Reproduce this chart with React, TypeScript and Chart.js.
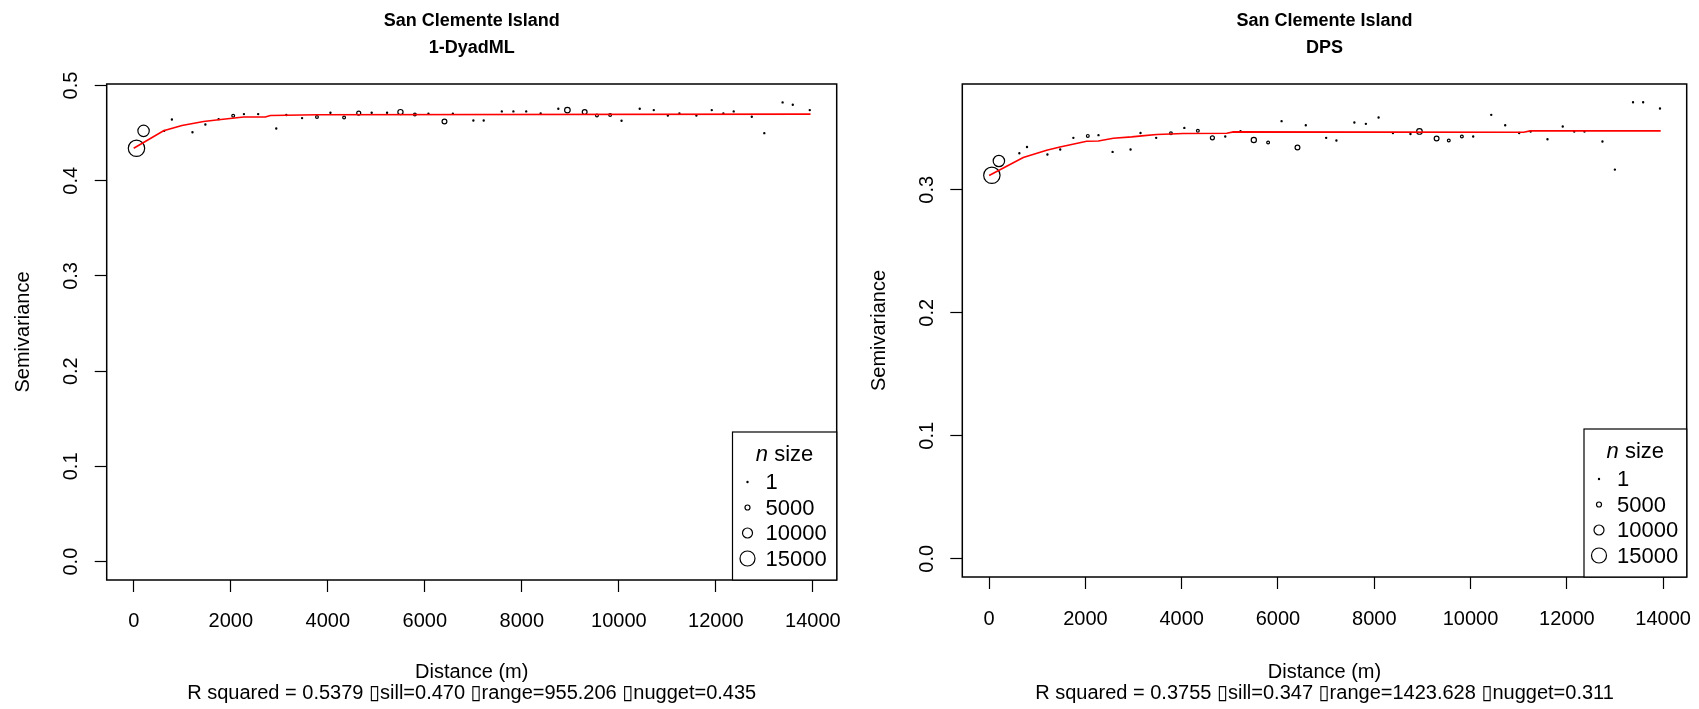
import React, { useEffect, useRef } from "react";
import { Chart, registerables } from "chart.js";

Chart.register(...registerables);

// ---------------- data ----------------
const DIST = [
  57, 203, 628, 787, 1211, 1477, 1750, 2050, 2272, 2565, 2938, 3145, 3470, 3777,
  4055, 4336, 4638, 4905, 5222, 5498, 5795, 6075, 6405, 6578, 7001, 7214, 7587,
  7826, 8090, 8388, 8752, 8939, 9295, 9548, 9820, 10055, 10430, 10720, 11010,
  11248, 11598, 11915, 12154, 12367, 12740, 12998, 13375, 13585, 13935,
];

const N_PAIRS = [
  16400, 11400, 1000, 1000, 1000, 1000, 1000, 2800, 1000, 1000, 1000, 1000, 1000,
  2800, 1000, 2800, 4000, 1000, 1000, 5200, 2800, 1000, 4800, 1000, 1000, 1000,
  1000, 1000, 1000, 1000, 1000, 5600, 4800, 2800, 2800, 1000, 1000, 1000, 1000,
  1000, 1000, 1000, 1000, 1000, 1000, 1000, 1000, 1000, 1000,
];

const SEMIVAR_DYAD = [
  0.4341, 0.4524, 0.4524, 0.4643, 0.451, 0.459, 0.4647, 0.4682, 0.47, 0.47,
  0.4548, 0.469, 0.4658, 0.4669, 0.4714, 0.4664, 0.4711, 0.4714, 0.4714, 0.4721,
  0.4696, 0.4703, 0.4622, 0.4703, 0.4633, 0.4633, 0.4728, 0.4728, 0.4728, 0.4707,
  0.4756, 0.4742, 0.4721, 0.4685, 0.469, 0.463, 0.4756, 0.4742, 0.4685, 0.4707,
  0.4685, 0.4742, 0.4707, 0.4728, 0.4672, 0.45, 0.4823, 0.4798, 0.4742,
];

const SEMIVAR_DPS = [
  0.3118, 0.3234, 0.3297, 0.3348, 0.3287, 0.3327, 0.3422, 0.3438, 0.3444, 0.3308,
  0.3327, 0.3462, 0.3422, 0.346, 0.3503, 0.3479, 0.3422, 0.3433, 0.3476, 0.3405,
  0.3384, 0.3558, 0.3344, 0.3525, 0.3422, 0.3401, 0.3547, 0.3536, 0.3588, 0.3462,
  0.3454, 0.3474, 0.3417, 0.3401, 0.3433, 0.3433, 0.3609, 0.3525, 0.3462, 0.3474,
  0.3411, 0.3515, 0.3474, 0.3474, 0.3392, 0.3164, 0.3712, 0.3712, 0.3661,
];

const FIT_DYAD_X = [0, 615, 994, 1440, 1750, 2266, 2713, 2817, 3780, 13950];
const FIT_DYAD_Y = [0.4341, 0.4524, 0.458, 0.4622, 0.464, 0.4669, 0.4669, 0.4685, 0.4693, 0.470];

const FIT_DPS_X = [0, 709, 1195, 1472, 2026, 2269, 2580, 2962, 3170, 3482, 4034, 4937, 5075, 11101, 11241, 13950];
const FIT_DPS_Y = [0.3116, 0.3262, 0.3322, 0.3348, 0.3395, 0.3397, 0.3419, 0.343, 0.3438, 0.3449, 0.3458, 0.346, 0.3471, 0.3468, 0.3479, 0.3479];

const X_TICKS = [0, 2000, 4000, 6000, 8000, 10000, 12000, 14000];
const Y_TICKS_DYAD = [0, 0.1, 0.2, 0.3, 0.4, 0.5];
const Y_TICKS_DPS = [0, 0.1, 0.2, 0.3];
const LEGEND_N = [1, 5000, 10000, 15000];

const CAPTION_DYAD = "R squared = 0.5379 \u25AFsill=0.470 \u25AFrange=955.206 \u25AFnugget=0.435";
const CAPTION_DPS = "R squared = 0.3755 \u25AFsill=0.347 \u25AFrange=1423.628 \u25AFnugget=0.311";

// ---------------- style / layout ----------------
const FONT = "'Liberation Sans', Arial, Helvetica, 'DejaVu Sans', sans-serif";
const H = 709;
const radiusFor = (n: number) => Math.max(0.6, n * 0.0005);

type Panel = {
  width: number;
  title: string[];
  y: number[];
  fitX: number[];
  fitY: number[];
  yTicks: number[];
  yMin: number;
  yMax: number;
  caption: string;
  area: { left: number; right: number; top: number; bottom: number };
  yLabelCenter: number;
  yTitleCenter: number;
  xLabelCenter: number;
  legendLeft: number;
  legendTop: number;
};

const PANELS: Panel[] = [
  {
    width: 849,
    title: ["San Clemente Island", "1-DyadML"],
    y: SEMIVAR_DYAD,
    fitX: FIT_DYAD_X,
    fitY: FIT_DYAD_Y,
    yTicks: Y_TICKS_DYAD,
    yMin: -0.0193,
    yMax: 0.5016,
    caption: CAPTION_DYAD,
    area: { left: 106.7, right: 836.7, top: 84, bottom: 580 },
    yLabelCenter: 71.5,
    yTitleCenter: 23,
    xLabelCenter: 621,
    legendLeft: 732.5,
    legendTop: 432,
  },
  {
    width: 850,
    title: ["San Clemente Island", "DPS"],
    y: SEMIVAR_DPS,
    fitX: FIT_DPS_X,
    fitY: FIT_DPS_Y,
    yTicks: Y_TICKS_DPS,
    yMin: -0.01485,
    yMax: 0.386,
    caption: CAPTION_DPS,
    area: { left: 113.3, right: 837.7, top: 84, bottom: 577 },
    yLabelCenter: 78,
    yTitleCenter: 30,
    xLabelCenter: 619,
    legendLeft: 1584 - 849,
    legendTop: 429,
  },
];

const TICK_SIZE = 20;
const LAB_SIZE = 20;
const LEG_SIZE = 22;
const TITLE_SIZE = 18;
const TICK_LEN = 12;

function buildConfig(p: Panel): any {
  const decor = {
    id: "decor",
    afterDraw(chart: any) {
      const ctx = chart.ctx as CanvasRenderingContext2D;
      const a = chart.chartArea;
      ctx.save();
      // frame
      ctx.strokeStyle = "#000";
      ctx.lineWidth = 1.5;
      ctx.strokeRect(a.left, a.top, a.right - a.left, a.bottom - a.top);
      // titles
      ctx.fillStyle = "#000";
      ctx.textAlign = "center";
      ctx.textBaseline = "middle";
      ctx.font = `bold ${TITLE_SIZE}px ${FONT}`;
      const cx = (a.left + a.right) / 2;
      ctx.fillText(p.title[0], cx, 21);
      ctx.fillText(p.title[1], cx, 48);
      // legend
      const lx = p.legendLeft;
      const ly = p.legendTop;
      const lw = a.right - lx;
      const lh = a.bottom - ly;
      ctx.fillStyle = "#fff";
      ctx.fillRect(lx, ly, lw, lh);
      ctx.lineWidth = 1.2;
      ctx.strokeRect(lx, ly, lw, lh);
      ctx.fillStyle = "#000";
      ctx.font = `italic ${LEG_SIZE}px ${FONT}`;
      const wN = ctx.measureText("n").width;
      ctx.font = `${LEG_SIZE}px ${FONT}`;
      const wS = ctx.measureText(" size").width;
      const tcx = lx + lw / 2;
      const startX = tcx - (wN + wS) / 2;
      ctx.textAlign = "left";
      ctx.font = `italic ${LEG_SIZE}px ${FONT}`;
      ctx.fillText("n", startX, ly + 23);
      ctx.font = `${LEG_SIZE}px ${FONT}`;
      ctx.fillText(" size", startX + wN, ly + 23);
      LEGEND_N.forEach((n, i) => {
        const yy = ly + 50 + i * 25.5;
        ctx.beginPath();
        ctx.arc(lx + 15, yy, radiusFor(n), 0, Math.PI * 2);
        ctx.lineWidth = 1.2;
        ctx.stroke();
        ctx.fillText(String(n), lx + 33, yy + 1);
      });
      ctx.restore();
    },
  };

  const widestGuess = 27.8;
  return {
    type: "scatter",
    data: {
      datasets: [
        {
          data: p.fitX.map((x, i) => ({ x, y: p.fitY[i] })),
          showLine: true,
          borderColor: "#ff0000",
          borderWidth: 1.6,
          pointRadius: 0,
          fill: false,
          tension: 0,
        },
        {
          data: DIST.map((x, i) => ({ x, y: p.y[i] })),
          showLine: false,
          pointStyle: "circle",
          pointRadius: N_PAIRS.map(radiusFor),
          pointBorderColor: "#000",
          pointBackgroundColor: "rgba(0,0,0,0)",
          pointBorderWidth: 1.2,
        },
      ],
    },
    options: {
      animation: false,
      responsive: false,
      maintainAspectRatio: false,
      events: [],
      layout: {
        padding: { left: 0, top: p.area.top, right: p.width - p.area.right, bottom: 0 },
      },
      plugins: {
        legend: { display: false },
        tooltip: { enabled: false },
        title: { display: false },
      },
      scales: {
        x: {
          type: "linear",
          min: -557,
          max: 14490,
          afterBuildTicks: (s: any) => {
            s.ticks = X_TICKS.map((v) => ({ value: v }));
          },
          afterFit: (s: any) => {
            s.height = H - p.area.bottom;
            s.paddingLeft = 0;
            s.paddingRight = 0;
          },
          border: { display: false },
          grid: {
            display: true,
            drawOnChartArea: false,
            drawTicks: true,
            tickLength: TICK_LEN,
            tickColor: "#000",
            tickWidth: 1.2,
          },
          ticks: {
            color: "#000",
            font: { family: FONT, size: TICK_SIZE, lineHeight: 1.2 },
            padding: p.xLabelCenter - p.area.bottom - TICK_LEN - (TICK_SIZE * 1.2) / 2,
            maxRotation: 0,
            minRotation: 0,
            autoSkip: false,
            callback: (v: any) => String(v),
          },
          title: {
            display: true,
            text: ["Distance (m)", p.caption],
            color: "#000",
            font: { family: FONT, size: LAB_SIZE, lineHeight: 21 / LAB_SIZE },
            padding: { top: 0, bottom: 5.5 },
          },
        },
        y: {
          type: "linear",
          min: p.yMin,
          max: p.yMax,
          afterBuildTicks: (s: any) => {
            s.ticks = p.yTicks.map((v) => ({ value: v }));
          },
          afterFit: (s: any) => {
            s.width = p.area.left;
            s.paddingTop = 0;
            s.paddingBottom = 0;
          },
          border: { display: false },
          grid: {
            display: true,
            drawOnChartArea: false,
            drawTicks: true,
            tickLength: TICK_LEN,
            tickColor: "#000",
            tickWidth: 1.2,
          },
          ticks: {
            color: "#000",
            font: { family: FONT, size: TICK_SIZE },
            minRotation: 90,
            maxRotation: 90,
            crossAlign: "center",
            padding: p.area.left - TICK_LEN - widestGuess / 2 - p.yLabelCenter,
            autoSkip: false,
            callback: (v: any) => Number(v).toFixed(1),
          },
          title: {
            display: true,
            text: "Semivariance",
            color: "#000",
            font: { family: FONT, size: LAB_SIZE, lineHeight: 1.2 },
            padding: { top: p.yTitleCenter - (LAB_SIZE * 1.2) / 2, bottom: 0 },
          },
        },
      },
    },
    plugins: [decor],
  };
}

export default function App() {
  const leftRef = useRef<HTMLCanvasElement>(null);
  const rightRef = useRef<HTMLCanvasElement>(null);

  useEffect(() => {
    const refs = [leftRef, rightRef];
    const charts = PANELS.map((p, i) => new Chart(refs[i].current as HTMLCanvasElement, buildConfig(p)));
    return () => charts.forEach((c) => c.destroy());
  }, []);

  return (
    <div style={{ position: "fixed", left: 0, top: 0, width: 1699, height: H, background: "#fff" }}>
      <canvas
        ref={leftRef}
        width={849}
        height={H}
        style={{ position: "absolute", left: 0, top: 0, width: 849, height: H }}
      />
      <canvas
        ref={rightRef}
        width={850}
        height={H}
        style={{ position: "absolute", left: 849, top: 0, width: 850, height: H }}
      />
    </div>
  );
}
